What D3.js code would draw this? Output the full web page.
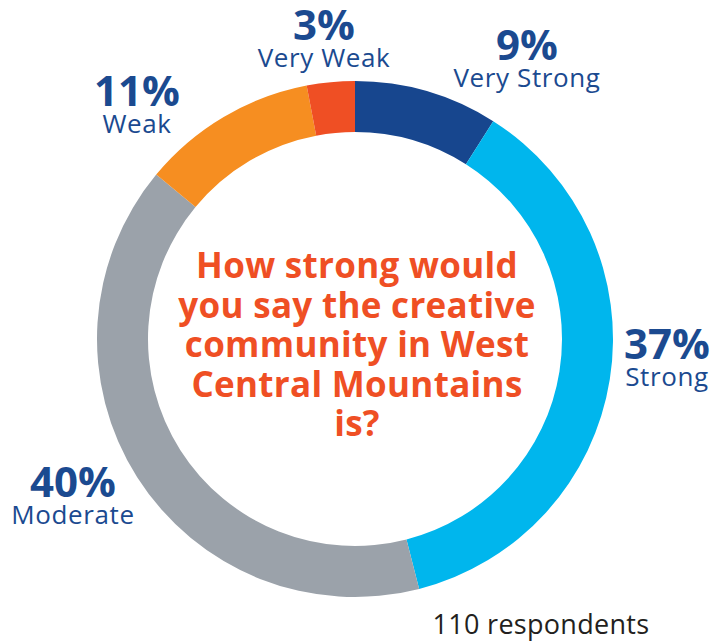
<!DOCTYPE html>
<html>
<head>
<meta charset="utf-8">
<script src="https://cdn.jsdelivr.net/npm/d3@7"></script>
<style>
  html, body { margin: 0; padding: 0; background: #ffffff; }
  svg { display: block; }
</style>
</head>
<body>
<div id="chart"></div>
<script>
// Survey responses, in clockwise order from 12 o'clock
const categories = ["Very Strong", "Strong", "Moderate", "Weak", "Very Weak"];
const percentages = [9, 37, 40, 11, 3];
const sliceColors = ["#17468e", "#00b6ed", "#9ba2aa", "#f68e21", "#ef4f24"];
const questionLines = [
  "How strong would",
  "you say the creative",
  "community in West",
  "Central Mountains",
  "is?"
];
const respondentNote = "110 respondents";

// Where each category's label block sits (centre x, baseline of the percentage)
const labelLayout = {
  "Very Strong": { x: 527, y: 60 },
  "Strong":      { x: 667, y: 359 },
  "Moderate":    { x: 73,  y: 497 },
  "Weak":        { x: 137, y: 106 },
  "Very Weak":   { x: 324, y: 40 }
};

const width = 713, height = 641;
const cx = 355, cy = 339;
const outerR = 258, innerR = 207;

const svg = d3.select("#chart").append("svg")
  .attr("width", width)
  .attr("height", height);

const data = categories.map((c, i) => ({ category: c, value: percentages[i], color: sliceColors[i] }));

const pie = d3.pie()
  .value(d => d.value)
  .sort(null)
  .startAngle(0)
  .endAngle(2 * Math.PI);

const arc = d3.arc()
  .innerRadius(innerR)
  .outerRadius(outerR);

const ring = svg.append("g").attr("transform", `translate(${cx},${cy})`);

ring.selectAll("path")
  .data(pie(data))
  .join("path")
  .attr("d", arc)
  .attr("fill", d => d.data.color);

// Category labels: bold percentage above the category name
const labels = svg.append("g")
  .attr("font-family", "'Open Sans', 'Noto Sans', sans-serif")
  .attr("fill", "#1b4a90")
  .attr("text-anchor", "middle");

data.forEach(d => {
  const pos = labelLayout[d.category];
  labels.append("text")
    .attr("x", pos.x)
    .attr("y", pos.y)
    .attr("font-size", 42)
    .attr("font-weight", 700)
    .text(d.value + "%");
  labels.append("text")
    .attr("x", pos.x)
    .attr("y", pos.y + 27)
    .attr("font-size", 26)
    .attr("font-weight", 400)
    .attr("letter-spacing", 0.6)
    .text(d.category);
});

// Question in the centre of the ring
const question = svg.append("text")
  .attr("x", cx + 2)
  .attr("y", 278)
  .attr("text-anchor", "middle")
  .attr("font-family", "'Open Sans', 'Noto Sans', sans-serif")
  .attr("font-size", 35)
  .attr("font-weight", 700)
  .attr("letter-spacing", 0.3)
  .attr("fill", "#ef4f24");

question.selectAll("tspan")
  .data(questionLines)
  .join("tspan")
  .attr("x", cx + 2)
  .attr("dy", (d, i) => i === 0 ? 0 : 39.5)
  .text(d => d);

svg.append("text")
  .attr("x", 541)
  .attr("y", 634)
  .attr("text-anchor", "middle")
  .attr("font-family", "'Open Sans', 'Noto Sans', sans-serif")
  .attr("font-size", 27)
  .attr("letter-spacing", 0.3)
  .attr("fill", "#231f20")
  .text(respondentNote);
</script>
</body>
</html>
